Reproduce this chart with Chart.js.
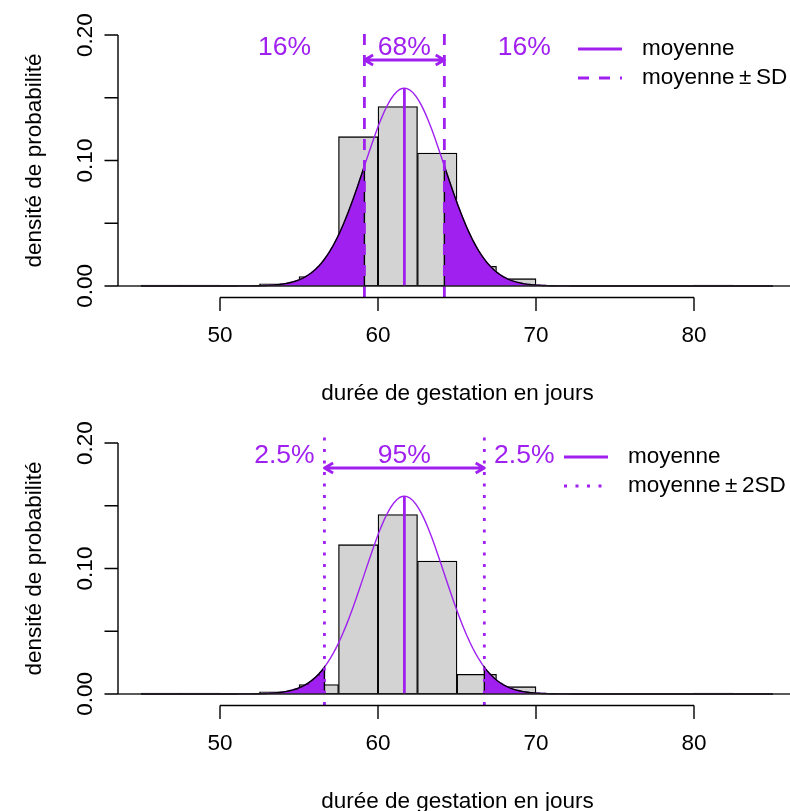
<!DOCTYPE html>
<html>
<head>
<meta charset="utf-8">
<script src="https://cdn.jsdelivr.net/npm/chart.js@4.4.1/dist/chart.umd.min.js"></script>
<style>
  html, body { margin: 0; padding: 0; background: #fff; }
  canvas { display: block; }
</style>
</head>
<body>
<canvas id="top" width="790" height="408"></canvas>
<canvas id="bottom" width="790" height="403"></canvas>
<script>
// histogram bins (density)
const binStarts = [45, 47.5, 50, 52.5, 55, 57.5, 60, 62.5, 65, 67.5, 70, 72.5, 75, 77.5, 80, 82.5];
const binDensity = [0.0008, 0.0008, 0, 0.0016, 0.0075, 0.119, 0.143, 0.106, 0.0157, 0.0058, 0, 0.0004, 0.0004, 0, 0.0008, 0];
const binWidth = 2.5;

// fitted normal law
const meanDays = 61.67;
const sdDays = 2.53;

const xTicks = [50, 60, 70, 80];
const yTicks = [0, 0.05, 0.10, 0.15, 0.20];
const yTickLabels = ['0.00', '', '0.10', '', '0.20'];

const pctTop = ['16%', '68%', '16%'];
const pctBottom = ['2.5%', '95%', '2.5%'];
const legendTop = ['moyenne', 'moyenne\u2009±\u2009SD'];
const legendBottom = ['moyenne', 'moyenne\u2009±\u20092SD'];

const xTitle = 'durée de gestation en jours';
const yTitle = 'densité de probabilité';

const PURPLE = '#A020F0';
const FONT = "'Liberation Sans', Arial, sans-serif";

// the curve itself is the normal density, so it is computed from mean/sd
function dnorm(v) {
  const z = (v - meanDays) / sdDays;
  return Math.exp(-0.5 * z * z) / (sdDays * Math.sqrt(2 * Math.PI));
}

function curvePoints(from, to) {
  const pts = [];
  const n = 200;
  for (let i = 0; i <= n; i++) {
    const v = from + (to - from) * i / n;
    pts.push({ x: v, y: dnorm(v) });
  }
  return pts;
}

const rDecor = {
  id: 'rDecor',
  afterDraw(chart, args, o) {
    const { ctx, chartArea: a, scales: { x, y } } = chart;
    ctx.save();
    ctx.lineCap = 'butt';

    // y = 0 line
    ctx.strokeStyle = '#222';
    ctx.lineWidth = 1.4;
    ctx.beginPath();
    ctx.moveTo(a.left, y.getPixelForValue(0));
    ctx.lineTo(a.right, y.getPixelForValue(0));
    ctx.stroke();

    // arrow between the two limits
    const ay = Math.round(y.getPixelForValue(0.18));
    const ax0 = x.getPixelForValue(meanDays - o.k * sdDays);
    const ax1 = x.getPixelForValue(meanDays + o.k * sdDays);
    ctx.strokeStyle = PURPLE;
    ctx.lineWidth = 2.8;
    ctx.lineJoin = 'round';
    ctx.beginPath();
    ctx.moveTo(ax0, ay);
    ctx.lineTo(ax1, ay);
    const hl = 10, ha = Math.PI / 6;
    ctx.moveTo(ax0 + hl * Math.cos(ha), ay - hl * Math.sin(ha));
    ctx.lineTo(ax0, ay);
    ctx.lineTo(ax0 + hl * Math.cos(ha), ay + hl * Math.sin(ha));
    ctx.moveTo(ax1 - hl * Math.cos(ha), ay - hl * Math.sin(ha));
    ctx.lineTo(ax1, ay);
    ctx.lineTo(ax1 - hl * Math.cos(ha), ay + hl * Math.sin(ha));
    ctx.stroke();

    // percentages
    ctx.fillStyle = PURPLE;
    ctx.font = '26.5px ' + FONT;
    ctx.textAlign = 'center';
    ctx.textBaseline = 'middle';
    const ty = y.getPixelForValue(0.19);
    [-3, 0, 3].forEach((m, i) => {
      ctx.fillText(o.pct[i], x.getPixelForValue(meanDays + m * sdDays), ty);
    });

    // legend
    ctx.font = '22.5px ' + FONT;
    ctx.textAlign = 'left';
    const rows = [49, 78];
    rows.forEach((ry, i) => {
      ctx.strokeStyle = PURPLE;
      ctx.lineWidth = 2.8;
      ctx.setLineDash(i === 0 ? [] : o.dash);
      ctx.beginPath();
      ctx.moveTo(o.legendX - 64, ry);
      ctx.lineTo(o.legendX - 20, ry);
      ctx.stroke();
      ctx.setLineDash([]);
      ctx.fillStyle = '#000';
      ctx.fillText(o.legend[i], o.legendX, ry);
    });

    // axes
    ctx.strokeStyle = '#000';
    ctx.fillStyle = '#000';
    ctx.lineWidth = 1.4;
    const tick = 13.5;
    const xb = a.bottom + 0.5;
    ctx.beginPath();
    ctx.moveTo(x.getPixelForValue(xTicks[0]), xb);
    ctx.lineTo(x.getPixelForValue(xTicks[xTicks.length - 1]), xb);
    xTicks.forEach(t => {
      const px = x.getPixelForValue(t);
      ctx.moveTo(px, xb);
      ctx.lineTo(px, xb + tick);
    });
    const yl = a.left;
    ctx.moveTo(yl, y.getPixelForValue(yTicks[0]));
    ctx.lineTo(yl, y.getPixelForValue(yTicks[yTicks.length - 1]));
    yTicks.forEach(t => {
      const py = y.getPixelForValue(t);
      ctx.moveTo(yl, py);
      ctx.lineTo(yl - tick, py);
    });
    ctx.stroke();

    ctx.textAlign = 'center';
    ctx.textBaseline = 'middle';
    xTicks.forEach(t => ctx.fillText(String(t), x.getPixelForValue(t), xb + 38));
    ctx.fillText(xTitle, (a.left + 797) / 2, xb + 96);

    yTicks.forEach((t, i) => {
      if (!yTickLabels[i]) return;
      ctx.save();
      ctx.translate(yl - 32, y.getPixelForValue(t));
      ctx.rotate(-Math.PI / 2);
      ctx.fillText(yTickLabels[i], 0, 0);
      ctx.restore();
    });
    ctx.save();
    ctx.translate(35, (y.getPixelForValue(0) + y.getPixelForValue(0.2)) / 2);
    ctx.rotate(-Math.PI / 2);
    ctx.fillText(yTitle, 0, 0);
    ctx.restore();

    ctx.restore();
  }
};

function drawPanel(id, k, dash, pct, legend, legendX, bottomPad) {
  const lo = meanDays - k * sdDays;
  const hi = meanDays + k * sdDays;
  const leftTail = curvePoints(45, lo).concat([{ x: lo, y: 0 }]);
  const rightTail = [{ x: hi, y: 0 }].concat(curvePoints(hi, 85));
  const yMin = -0.0088, yMax = 0.208;

  new Chart(document.getElementById(id), {
    type: 'bar',
    data: {
      datasets: [
        {
          type: 'bar',
          order: 6,
          data: binStarts.map((b, i) => ({ x: b + binWidth / 2, y: binDensity[i] })),
          backgroundColor: '#D3D3D3',
          borderColor: '#000',
          borderWidth: 1.3,
          borderSkipped: false,
          barPercentage: 1,
          categoryPercentage: 1
        },
        {
          type: 'line',
          order: 5,
          data: curvePoints(45, 85),
          borderColor: PURPLE,
          borderWidth: 1.4,
          pointRadius: 0,
          fill: false
        },
        {
          type: 'line',
          order: 4,
          data: leftTail,
          borderColor: '#000',
          borderWidth: 1.4,
          backgroundColor: PURPLE,
          pointRadius: 0,
          fill: 'origin'
        },
        {
          type: 'line',
          order: 4,
          data: rightTail,
          borderColor: '#000',
          borderWidth: 1.4,
          backgroundColor: PURPLE,
          pointRadius: 0,
          fill: 'origin'
        },
        {
          type: 'line',
          order: 2,
          data: [{ x: meanDays, y: 0 }, { x: meanDays, y: dnorm(meanDays) }],
          borderColor: PURPLE,
          borderWidth: 2.8,
          pointRadius: 0
        },
        {
          type: 'line',
          order: 1,
          data: [{ x: lo, y: yMin }, { x: lo, y: yMax }],
          borderColor: PURPLE,
          borderWidth: 2.8,
          borderDash: dash,
          pointRadius: 0
        },
        {
          type: 'line',
          order: 1,
          data: [{ x: hi, y: yMin }, { x: hi, y: yMax }],
          borderColor: PURPLE,
          borderWidth: 2.8,
          borderDash: dash,
          pointRadius: 0
        }
      ]
    },
    options: {
      responsive: false,
      animation: false,
      layout: { padding: { left: 118, right: 0, top: 25, bottom: bottomPad } },
      scales: {
        x: { type: 'linear', min: 43.544, max: 86.076, offset: false, display: false },
        y: { type: 'linear', min: yMin, max: yMax, display: false }
      },
      plugins: {
        legend: { display: false },
        tooltip: { enabled: false },
        rDecor: { k: k, dash: dash, pct: pct, legend: legend, legendX: legendX }
      }
    },
    plugins: [rDecor]
  });
}

drawPanel('top', 1, [11, 10], pctTop, legendTop, 642, 111);
drawPanel('bottom', 2, [3, 8.5], pctBottom, legendBottom, 628, 106);
</script>
</body>
</html>
